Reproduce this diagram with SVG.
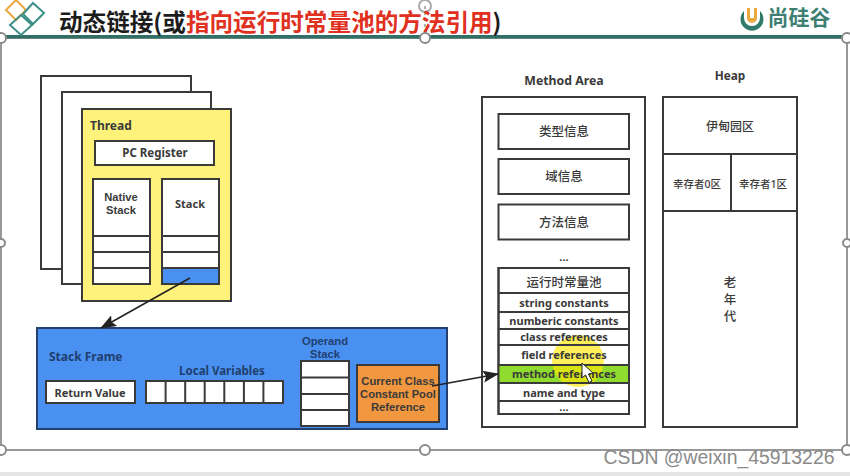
<svg xmlns="http://www.w3.org/2000/svg" width="850" height="476" viewBox="0 0 850 476">
<defs>
<marker id="ah" markerUnits="userSpaceOnUse" markerWidth="16" markerHeight="12" refX="15" refY="6" orient="auto"><path d="M0 0L16 6L0 12L3 6Z" fill="#222"/></marker>
</defs>
<style>
text{font-family:"Noto Sans","Noto Sans CJK SC",sans-serif;fill:#3a3a3a;text-anchor:middle;font-weight:700;font-size:11px}
text.m{font-family:"Liberation Sans",sans-serif;font-size:11.200px}
.b{fill:#fff;stroke:#3a3a3a;stroke-width:2}
.n{fill:none;stroke:#3a3a3a;stroke-width:2}
.cn{font-size:12.500px;font-weight:500}
.blue{fill:#1f3f6e}
.h{fill:#fff;stroke:#8a8a8a;stroke-width:2}
.sel{fill:none;stroke:#999;stroke-width:2}
.dia{fill:none;stroke:#3c8f88;stroke-width:2}
</style>
<rect width="850" height="476" fill="#fff"/>
<rect y="472" width="850" height="4" fill="#e4e4e4"/>
<g id="slide-frame">
<rect class="sel" x="1" y="38" width="846" height="412"/>
<rect x="3" y="35" width="843" height="3.500" fill="#2f6f66"/>
<path d="M425 6V33" stroke="#999" stroke-width="1.500" stroke-dasharray="3 3" fill="none"/>
<circle cx="425" cy="6" r="6" fill="none" stroke="#aaa" stroke-width="2"/>
</g>
<g id="title-decor">
<path d="M16 0L26 10L16 20L6 10Z" fill="none" stroke="#e8a93f" stroke-width="2"/>
<path class="dia" d="M33 3L44 13L33 24L23 14Z"/>
<path class="dia" d="M21 15L32 25L21 35L10 25Z"/>
</g>
<g id="title">
<text x="59" y="31" style="font-size:23.600px;text-anchor:start;fill:#1c1c1c;font-family:'Noto Sans CJK SC',sans-serif">动态链接(或<tspan style="fill:#e0301e">指向运行时常量池的方法引用</tspan>)</text>
</g>
<g id="logo">
<path d="M744 11A11.500 11.500 0 1 0 760 11L760 18A8 8 0 0 1 744 18Z" fill="#2f7a6b"/>
<path d="M747 8V18A5 5 0 0 0 757 18V8H754V18H750V8Z" fill="#e8a93f"/>
<text x="799" y="25" style="font-size:21px;fill:#3d7f72;font-family:'Noto Sans CJK SC',sans-serif">尚硅谷</text>
</g>
<g id="thread-back-2"><rect class="b" x="41" y="76" width="150" height="193"/></g>
<g id="thread-back-1"><rect class="b" x="62" y="92" width="149" height="192"/></g>
<g id="thread">
<rect x="82" y="109" width="149" height="192" fill="#fff27a" stroke="#3a3a3a" stroke-width="2"/>
<text x="90" y="130" style="font-size:12px;text-anchor:start">Thread</text>
</g>
<g id="pc-register">
<rect class="b" x="95" y="141" width="119" height="24"/>
<text x="155" y="157" style="font-size:11.500px">PC Register</text>
</g>
<g id="native-stack">
<rect class="b" x="93" y="179" width="57" height="105"/>
<path class="n" d="M93 236H150M93 252H150M93 268H150"/>
<text class="m" x="121" y="201">Native</text>
<text class="m" x="121" y="214">Stack</text>
</g>
<g id="stack">
<rect class="b" x="162" y="179" width="57" height="105"/>
<rect x="162" y="268" width="57" height="16" fill="#4a90f0"/>
<path class="n" d="M162 236H219M162 252H219M162 268H219"/>
<rect class="n" x="162" y="179" width="57" height="105"/>
<text x="190" y="208">Stack</text>
</g>
<g id="stack-frame">
<rect x="37" y="328" width="410" height="101" fill="#4a90f0" stroke="#25406e" stroke-width="2"/>
<text x="49" y="361" class="blue" style="font-size:12px;text-anchor:start">Stack Frame</text>
</g>
<g id="return-value">
<rect class="b" x="46" y="381" width="89" height="22"/>
<text x="90" y="397">Return Value</text>
</g>
<g id="local-variables">
<text x="222" y="375" class="blue" style="font-size:11.500px">Local Variables</text>
<rect class="b" x="146" y="381" width="137" height="22"/>
<path class="n" d="M165.600 381V403M185.200 381V403M204.700 381V403M224.300 381V403M243.900 381V403M263.400 381V403"/>
</g>
<g id="operand-stack">
<text class="m blue" x="325" y="345">Operand</text>
<text class="m blue" x="325" y="358">Stack</text>
<rect class="b" x="301" y="361" width="48" height="65"/>
<path class="n" d="M301 377.500H349M301 394H349M301 410H349"/>
</g>
<g id="current-class">
<rect x="357" y="365" width="82" height="57" fill="#f0973f" stroke="#3a3a3a" stroke-width="2"/>
<text class="m" x="398" y="385">Current Class</text>
<text class="m" x="398" y="398">Constant Pool</text>
<text class="m" x="398" y="411">Reference</text>
</g>
<g id="method-area">
<text x="564" y="85" style="font-size:12.300px">Method Area</text>
<rect class="b" x="482" y="97" width="163" height="330"/>
</g>
<g id="type-info"><rect class="b" x="498.500" y="114" width="130.500" height="35"/><text x="564" y="136" class="cn">类型信息</text></g>
<g id="field-info"><rect class="b" x="498.500" y="159" width="130.500" height="35"/><text x="564" y="181" class="cn">域信息</text></g>
<g id="method-info"><rect class="b" x="498.500" y="204.500" width="130.500" height="35"/><text x="564" y="227" class="cn">方法信息</text></g>
<g id="method-dots"><text x="564" y="261">...</text></g>
<g id="constant-pool">
<rect class="b" x="498.500" y="268" width="130.500" height="146"/>
<rect x="498.500" y="365" width="130.500" height="18" fill="#8fdc2e"/>
<circle cx="578" cy="361" r="26" fill="#ffe600" opacity=".65"/>
<path class="n" d="M498.500 293H629M498.500 312H629M498.500 329H629M498.500 345H629M498.500 365H629M498.500 383H629M498.500 401H629"/>
<rect class="n" x="498.500" y="268" width="130.500" height="146"/>
<text x="564" y="287" class="cn">运行时常量池</text>
<text x="564" y="307">string constants</text>
<text x="564" y="325">numberic constants</text>
<text x="564" y="341">class references</text>
<text x="564" y="359">field references</text>
<text x="564" y="378">method references</text>
<text x="564" y="396.500">name and type</text>
<text class="m" x="564" y="411">...</text>
<path d="M582 363L582 378L585.500 375L589 382.500L592 381L588.500 374L593 373Z" fill="#fff" stroke="#222" stroke-width="1"/>
</g>
<g id="heap">
<text x="730" y="80" style="font-size:11.800px">Heap</text>
<rect class="b" x="663" y="97" width="134" height="330"/>
<path class="n" d="M663 154H797M663 211H797M731 154V211"/>
<text x="730" y="131" class="cn" style="font-size:12px">伊甸园区</text>
<text x="697" y="188" class="cn" style="font-size:10.500px">幸存者0区</text>
<text x="763" y="188" class="cn" style="font-size:10.500px">幸存者1区</text>
<text x="730" y="287" class="cn">老</text>
<text x="730" y="304" class="cn">年</text>
<text x="730" y="321" class="cn">代</text>
</g>
<g id="connectors" fill="none" stroke="#222" stroke-width="1.500">
<line x1="190" y1="278" x2="101" y2="328" marker-end="url(#ah)"/>
<line x1="432" y1="386" x2="498" y2="374" marker-end="url(#ah)"/>
</g>
<g id="handles">
<circle class="h" cx="1" cy="38" r="5"/><circle class="h" cx="425" cy="38" r="5"/><circle class="h" cx="847" cy="38" r="5"/>
<circle class="h" cx="1" cy="243" r="4"/><circle class="h" cx="847" cy="243" r="4"/>
<circle class="h" cx="1" cy="450" r="5"/><circle class="h" cx="425" cy="450" r="5"/><circle class="h" cx="847" cy="450" r="5"/>
</g>
<g id="watermark">
<text x="719" y="464" style="font-size:19.400px;font-weight:400;fill:#8a8a8a;font-family:'Liberation Sans',sans-serif">CSDN @weixin_45913226</text>
</g>
</svg>
